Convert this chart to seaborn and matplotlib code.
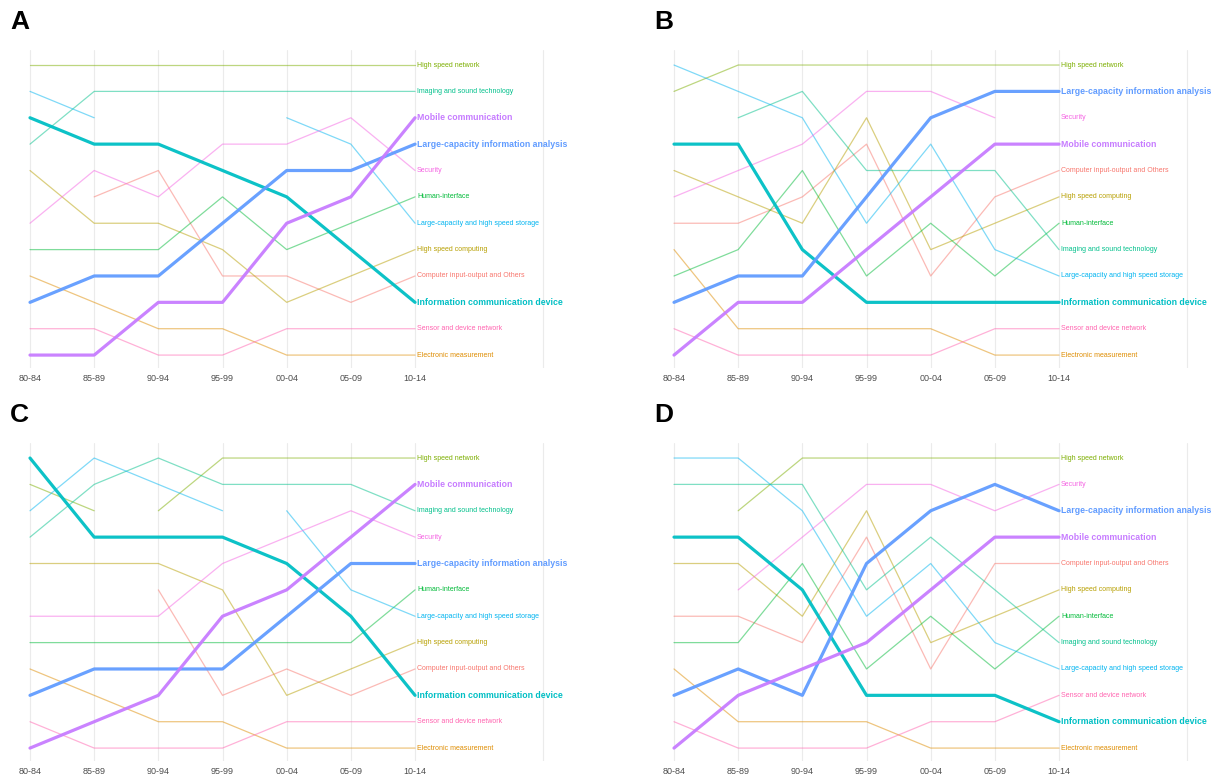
import matplotlib
matplotlib.use("Agg")
from matplotlib import pyplot as plt
import seaborn as sns
import pandas as pd

periods = ["80-84", "85-89", "90-94", "95-99", "00-04", "05-09", "10-14"]

categories = ["Computer input-output and Others", "Electronic measurement",
              "High speed computing", "High speed network", "Human-interface",
              "Imaging and sound technology", "Information communication device",
              "Large-capacity and high speed storage", "Large-capacity information analysis",
              "Mobile communication", "Security", "Sensor and device network"]

highlighted = ["Information communication device", "Large-capacity information analysis",
               "Mobile communication"]

# ranks per period, same order as categories
ranks_A = [[6, 6, 5, 9, 9, 10, 9], [9, 10, 11, 11, 12, 12, 12], [5, 7, 7, 8, 10, 9, 8],
           [1, 1, 1, 1, 1, 1, 1], [8, 8, 8, 6, 8, 7, 6], [4, 2, 2, 2, 2, 2, 2],
           [3, 4, 4, 5, 6, 8, 10], [2, 3, 3, 3, 3, 4, 7], [10, 9, 9, 7, 5, 5, 4],
           [12, 12, 10, 10, 7, 6, 3], [7, 5, 6, 4, 4, 3, 5], [11, 11, 12, 12, 11, 11, 11]]
ranks_B = [[7, 7, 6, 4, 9, 6, 5], [8, 11, 11, 11, 11, 12, 12], [5, 6, 7, 3, 8, 7, 6],
           [2, 1, 1, 1, 1, 1, 1], [9, 8, 5, 9, 7, 9, 7], [3, 3, 2, 5, 5, 5, 8],
           [4, 4, 8, 10, 10, 10, 10], [1, 2, 3, 7, 4, 8, 9], [10, 9, 9, 6, 3, 2, 2],
           [12, 10, 10, 8, 6, 4, 4], [6, 5, 4, 2, 2, 3, 3], [11, 12, 12, 12, 12, 11, 11]]
ranks_C = [[6, 6, 6, 10, 9, 10, 9], [9, 10, 11, 11, 12, 12, 12], [5, 5, 5, 6, 10, 9, 8],
           [2, 3, 3, 1, 1, 1, 1], [8, 8, 8, 8, 8, 8, 6], [4, 2, 1, 2, 2, 2, 3],
           [1, 4, 4, 4, 5, 7, 10], [3, 1, 2, 3, 3, 6, 7], [10, 9, 9, 9, 7, 5, 5],
           [12, 11, 10, 7, 6, 4, 2], [7, 7, 7, 5, 4, 3, 4], [11, 12, 12, 12, 11, 11, 11]]
ranks_D = [[7, 7, 8, 4, 9, 5, 5], [9, 11, 11, 11, 12, 12, 12], [5, 5, 7, 3, 8, 7, 6],
           [3, 3, 1, 1, 1, 1, 1], [8, 8, 5, 9, 7, 9, 7], [2, 2, 2, 6, 4, 6, 8],
           [4, 4, 6, 10, 10, 10, 11], [1, 1, 3, 7, 5, 8, 9], [10, 9, 10, 5, 3, 2, 3],
           [12, 10, 9, 8, 6, 4, 4], [6, 6, 4, 2, 2, 3, 2], [11, 12, 12, 12, 11, 11, 10]]

# segments (category, start period index) that are not drawn
hidden_A = [("Large-capacity and high speed storage", 1), ("Large-capacity and high speed storage", 2),
            ("Large-capacity and high speed storage", 3), ("Computer input-output and Others", 0)]
hidden_B = [("Imaging and sound technology", 0), ("Security", 5)]
hidden_C = [("High speed network", 1), ("Large-capacity and high speed storage", 3),
            ("Computer input-output and Others", 0), ("Computer input-output and Others", 1)]
hidden_D = [("High speed network", 0), ("Security", 0)]

palette = dict(zip(categories, sns.color_palette(
    ["#F8766D", "#DE8C00", "#B79F00", "#7CAE00", "#00BA38", "#00C08B",
     "#00BFC4", "#00B4F0", "#619CFF", "#C77CFF", "#F564E3", "#FF64B0"])))


def build_frame(ranks, hidden):
    # split each line into pieces wherever a segment is left out
    rows = []
    for cat, r in zip(categories, ranks):
        piece = 0
        for i, v in enumerate(r):
            rows.append({"category": cat, "piece": cat + str(piece), "x": i, "rank": v})
            if (cat, i) in hidden:
                piece += 1
    return pd.DataFrame(rows)


sns.set_style("white")
plt.rcParams["font.family"] = ["Liberation Sans", "DejaVu Sans"]

W, H = 1217, 776
fig = plt.figure(figsize=(W / 100, H / 100), dpi=100)

panels = [("A", ranks_A, hidden_A, 10.75, 50),
          ("B", ranks_B, hidden_B, 654.75, 50),
          ("C", ranks_C, hidden_C, 10.75, 443),
          ("D", ranks_D, hidden_D, 654.75, 443)]

for letter, ranks, hidden, left, top in panels:
    ax = fig.add_axes([left / W, 1 - (top + 318) / H, 551.9 / W, 318 / H])
    df = build_frame(ranks, hidden)
    thin = df[~df["category"].isin(highlighted)]
    thick = df[df["category"].isin(highlighted)]
    sns.lineplot(data=thin, x="x", y="rank", hue="category", units="piece", estimator=None,
                 palette=palette, linewidth=0.9, alpha=0.5, legend=False, sort=False, ax=ax)
    sns.lineplot(data=thick, x="x", y="rank", hue="category", units="piece", estimator=None,
                 palette=palette, linewidth=2.3, alpha=0.95, legend=False, sort=False, ax=ax)

    for cat, r in zip(categories, ranks):
        big = cat in highlighted
        ax.annotate(cat, (6, r[-1]), xytext=(1.5, 0), textcoords="offset points",
                    va="center", ha="left", color=palette[cat],
                    fontsize=6.3 if big else 5.0, fontweight="bold" if big else "normal")

    ax.set_xlim(-0.3, 8.3)
    ax.set_ylim(12.49, 0.43)
    ax.set_xticks(range(len(periods)))
    ax.set_xticklabels(periods, fontsize=6.5, color="#4D4D4D")
    ax.set_yticks([])
    ax.tick_params(axis="x", length=0, pad=4)
    ax.grid(axis="x", color="#EBEBEB", linewidth=0.8)
    ax.axvline(8, color="#EBEBEB", linewidth=0.8, zorder=0)
    ax.set_axisbelow(True)
    ax.set_xlabel("")
    ax.set_ylabel("")
    for s in ax.spines.values():
        s.set_visible(False)

    fig.text((left - 0.75) / W, 1 - (top - 28) / H, letter, fontsize=19, fontweight="bold",
             color="black", ha="left", va="center")

fig.savefig("out.png", dpi=100)
